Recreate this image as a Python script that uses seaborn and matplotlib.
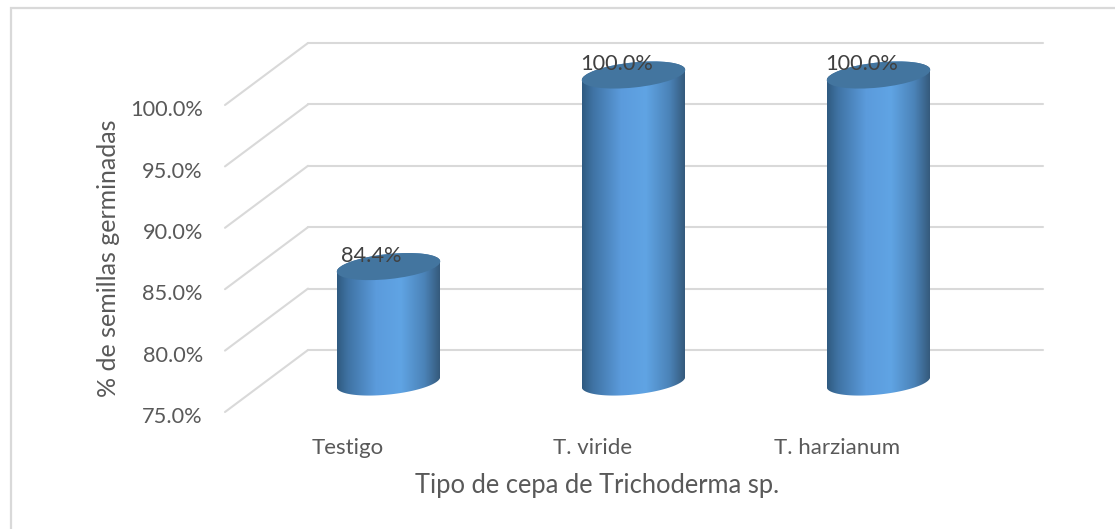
import matplotlib
matplotlib.use("Agg")
import matplotlib.pyplot as plt
import numpy as np
import seaborn as sns
from matplotlib.colors import LinearSegmentedColormap
from matplotlib.patches import ConnectionPatch, Ellipse, Polygon, Rectangle
from matplotlib.transforms import IdentityTransform, ScaledTranslation

cepas = ["Testigo", "T. viride", "T. harzianum"]
germinadas = [84.4, 100.0, 100.0]
ticks_y = [75, 80, 85, 90, 95, 100]
etiquetas_y = ["75.0%", "80.0%", "85.0%", "90.0%", "95.0%", "100.0%"]

W, H = 1115, 529
sns.set_theme(style="white")
plt.rcParams["font.family"] = ["Lato", "DejaVu Sans"]
gris_texto = "#595959"
gris_linea = "#d9d9d9"


def caja(dx=0, dy=0):
    # plano frontal: x 225-960, y 412-105 en pixeles de la imagen
    return [(225 + dx) / W, 1 - (412 - dy) / H, 735 / W, 307 / H]


fig = plt.figure(figsize=(W / 100, H / 100), dpi=100, facecolor="white")
fig.add_artist(Rectangle((11 / W, -0.1), 1.1, 1.1 - 8 / H, transform=fig.transFigure,
                         fill=False, ec=gris_linea, lw=1.6))

ax_fondo = fig.add_axes(caja(83, 62))
ax_barras = fig.add_axes(caja(41, 30))
ax = fig.add_axes(caja())

for a in [ax_fondo, ax_barras, ax]:
    a.patch.set_alpha(0)
    sns.despine(ax=a, left=True, bottom=True)

sns.barplot(x=cepas, y=germinadas, color="#5b9bd5", width=0.42, ax=ax_barras)

for a in [ax_fondo, ax_barras, ax]:
    a.set_xlim(-0.5, 2.5)
    a.set_ylim(75, 100)

# pared del fondo
ax_fondo.set_yticks(ticks_y)
ax_fondo.set_xticks([])
ax_fondo.set_yticklabels([])
ax_fondo.grid(axis="y", color=gris_linea, lw=1.5)
ax_fondo.tick_params(length=0)
for g in ax_fondo.get_ygridlines():
    g.set_clip_on(False)

# piso y pared lateral
for t in ticks_y:
    fig.add_artist(ConnectionPatch((-0.5, t), (-0.5, t), ax.transData, ax_fondo.transData,
                                   color=gris_linea, lw=1.5, zorder=-1))

# cilindros
grad = LinearSegmentedColormap.from_list("cil", [(0, "#2f5a80"), (0.1, "#3f72a2"), (0.38, "#5b9bdc"),
                                                 (0.62, "#60a4e4"), (0.85, "#4b83b8"), (1, "#355a7c")])
a_px, b_px, ang = 52, 12.5, 6
th = np.radians(ang)


def contorno(cx, cy, t):
    return np.column_stack([cx + a_px * np.cos(t) * np.cos(th) - b_px * np.sin(t) * np.sin(th),
                            cy + a_px * np.cos(t) * np.sin(th) + b_px * np.sin(t) * np.cos(th)])


for i, (barra, v) in enumerate(zip(ax_barras.patches, germinadas)):
    barra.set_visible(False)
    x0 = barra.get_x()
    x1 = x0 + barra.get_width()
    cx, cy = ax_barras.transData.transform((i, v))
    _, cy0 = ax_barras.transData.transform((i, ticks_y[0]))
    cuerpo = np.vstack([contorno(cx, cy, np.linspace(0, np.pi, 60)),
                        contorno(cx, cy0, np.linspace(np.pi, 2 * np.pi, 60))])
    borde = Polygon(cuerpo, transform=IdentityTransform())
    im = ax_barras.imshow(np.linspace(0, 1, 256)[None, :], cmap=grad, aspect="auto",
                          extent=(x0, x1, ticks_y[0] - 4, v + 4), zorder=2, interpolation="bilinear")
    im.set_clip_path(borde)
    im.set_clip_box(fig.bbox)
    ax_barras.add_patch(Ellipse((cx, cy), 2 * a_px, 2 * b_px, angle=ang, transform=IdentityTransform(),
                                fc="#43759f", ec="none", zorder=3, clip_on=False))
    ax_barras.annotate(f"{v:.1f}%", (i, v), xytext=(-17, 11), textcoords="offset pixels", ha="center",
                       va="center", fontsize=15.7, color="#404040", zorder=4, annotation_clip=False)

ax_barras.set_xlim(-0.5, 2.5)
ax_barras.set_ylim(75, 100)
ax_barras.axis("off")

# ejes
ax.set_xticks(range(len(cepas)))
ax.set_xticklabels(cepas)
ax.set_yticks(ticks_y)
ax.set_yticklabels(etiquetas_y)
ax.tick_params(axis="x", length=0, pad=18.5, labelsize=16, labelcolor=gris_texto)
ax.tick_params(axis="y", length=0, pad=16, labelsize=15.7, labelcolor=gris_texto)
bajar = ScaledTranslation(0, -2.3 / 72, fig.dpi_scale_trans)
for lab in ax.get_yticklabels():
    lab.set_transform(lab.get_transform() + bajar)
ax.set_xlabel("Tipo de cepa de Trichoderma sp.", fontsize=18.4, color=gris_texto, x=0.506, labelpad=11)
ax.set_ylabel("% de semillas germinadas", fontsize=18, color=gris_texto, labelpad=7)

fig.savefig("out.png", dpi=100)
